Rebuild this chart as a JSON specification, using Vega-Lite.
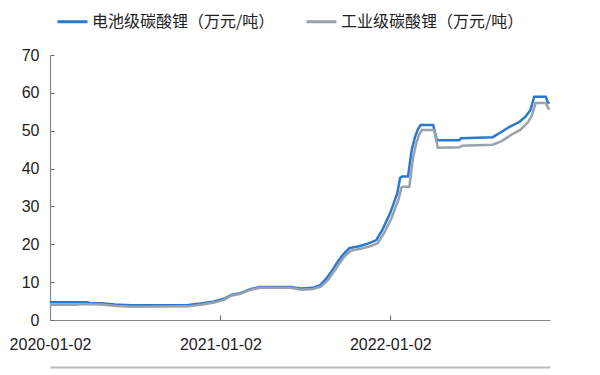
{
  "$schema": "https://vega.github.io/schema/vega-lite/v6.json",
  "width": 500,
  "height": 265,
  "autosize": {"type": "none"},
  "padding": {"left": 50, "top": 55, "right": 50, "bottom": 55},
  "background": "white",
  "config": {
    "view": {"stroke": null},
    "font": "Liberation Sans"
  },
  "data": {
    "values": [
      {"date": "2020-01-02", "s": "电池级碳酸锂（万元/吨）", "v": 4.7},
      {"date": "2020-03-22", "s": "电池级碳酸锂（万元/吨）", "v": 4.7},
      {"date": "2020-03-28", "s": "电池级碳酸锂（万元/吨）", "v": 4.45},
      {"date": "2020-04-22", "s": "电池级碳酸锂（万元/吨）", "v": 4.4},
      {"date": "2020-05-20", "s": "电池级碳酸锂（万元/吨）", "v": 4.1},
      {"date": "2020-06-25", "s": "电池级碳酸锂（万元/吨）", "v": 3.9},
      {"date": "2020-10-25", "s": "电池级碳酸锂（万元/吨）", "v": 3.95},
      {"date": "2020-11-25", "s": "电池级碳酸锂（万元/吨）", "v": 4.4},
      {"date": "2020-12-20", "s": "电池级碳酸锂（万元/吨）", "v": 4.9},
      {"date": "2021-01-10", "s": "电池级碳酸锂（万元/吨）", "v": 5.6},
      {"date": "2021-01-25", "s": "电池级碳酸锂（万元/吨）", "v": 6.6},
      {"date": "2021-02-14", "s": "电池级碳酸锂（万元/吨）", "v": 7.1},
      {"date": "2021-03-08", "s": "电池级碳酸锂（万元/吨）", "v": 8.2},
      {"date": "2021-03-29", "s": "电池级碳酸锂（万元/吨）", "v": 8.7},
      {"date": "2021-06-01", "s": "电池级碳酸锂（万元/吨）", "v": 8.7},
      {"date": "2021-06-25", "s": "电池级碳酸锂（万元/吨）", "v": 8.3},
      {"date": "2021-07-20", "s": "电池级碳酸锂（万元/吨）", "v": 8.5},
      {"date": "2021-08-04", "s": "电池级碳酸锂（万元/吨）", "v": 9.2},
      {"date": "2021-08-18", "s": "电池级碳酸锂（万元/吨）", "v": 11},
      {"date": "2021-09-01", "s": "电池级碳酸锂（万元/吨）", "v": 13.5},
      {"date": "2021-09-12", "s": "电池级碳酸锂（万元/吨）", "v": 15.6},
      {"date": "2021-09-22", "s": "电池级碳酸锂（万元/吨）", "v": 17.2},
      {"date": "2021-10-06", "s": "电池级碳酸锂（万元/吨）", "v": 19.0},
      {"date": "2021-10-27", "s": "电池级碳酸锂（万元/吨）", "v": 19.5},
      {"date": "2021-11-18", "s": "电池级碳酸锂（万元/吨）", "v": 20.3},
      {"date": "2021-12-03", "s": "电池级碳酸锂（万元/吨）", "v": 21.1},
      {"date": "2021-12-16", "s": "电池级碳酸锂（万元/吨）", "v": 23.8},
      {"date": "2022-01-02", "s": "电池级碳酸锂（万元/吨）", "v": 28.3},
      {"date": "2022-01-17", "s": "电池级碳酸锂（万元/吨）", "v": 33.5},
      {"date": "2022-01-23", "s": "电池级碳酸锂（万元/吨）", "v": 37.5},
      {"date": "2022-01-27", "s": "电池级碳酸锂（万元/吨）", "v": 37.9},
      {"date": "2022-02-09", "s": "电池级碳酸锂（万元/吨）", "v": 37.9},
      {"date": "2022-02-17", "s": "电池级碳酸锂（万元/吨）", "v": 45},
      {"date": "2022-02-24", "s": "电池级碳酸锂（万元/吨）", "v": 48.3},
      {"date": "2022-03-02", "s": "电池级碳酸锂（万元/吨）", "v": 50.3},
      {"date": "2022-03-08", "s": "电池级碳酸锂（万元/吨）", "v": 51.5},
      {"date": "2022-04-04", "s": "电池级碳酸锂（万元/吨）", "v": 51.5},
      {"date": "2022-04-12", "s": "电池级碳酸锂（万元/吨）", "v": 47.5},
      {"date": "2022-05-30", "s": "电池级碳酸锂（万元/吨）", "v": 47.5},
      {"date": "2022-06-03", "s": "电池级碳酸锂（万元/吨）", "v": 48},
      {"date": "2022-08-10", "s": "电池级碳酸锂（万元/吨）", "v": 48.3},
      {"date": "2022-08-25", "s": "电池级碳酸锂（万元/吨）", "v": 49.4},
      {"date": "2022-09-15", "s": "电池级碳酸锂（万元/吨）", "v": 51},
      {"date": "2022-10-06", "s": "电池级碳酸锂（万元/吨）", "v": 52.3},
      {"date": "2022-10-20", "s": "电池级碳酸锂（万元/吨）", "v": 53.8},
      {"date": "2022-10-30", "s": "电池级碳酸锂（万元/吨）", "v": 55.5},
      {"date": "2022-11-07", "s": "电池级碳酸锂（万元/吨）", "v": 59},
      {"date": "2022-12-02", "s": "电池级碳酸锂（万元/吨）", "v": 59},
      {"date": "2022-12-06", "s": "电池级碳酸锂（万元/吨）", "v": 57.5},
      {"date": "2022-12-10", "s": "电池级碳酸锂（万元/吨）", "v": 57.2},
      {"date": "2020-01-02", "s": "工业级碳酸锂（万元/吨）", "v": 4.0},
      {"date": "2020-03-01", "s": "工业级碳酸锂（万元/吨）", "v": 4.0},
      {"date": "2020-03-08", "s": "工业级碳酸锂（万元/吨）", "v": 4.2},
      {"date": "2020-04-20", "s": "工业级碳酸锂（万元/吨）", "v": 4.1},
      {"date": "2020-05-25", "s": "工业级碳酸锂（万元/吨）", "v": 3.7},
      {"date": "2020-06-25", "s": "工业级碳酸锂（万元/吨）", "v": 3.5},
      {"date": "2020-10-25", "s": "工业级碳酸锂（万元/吨）", "v": 3.6},
      {"date": "2020-11-25", "s": "工业级碳酸锂（万元/吨）", "v": 4.1},
      {"date": "2020-12-20", "s": "工业级碳酸锂（万元/吨）", "v": 4.6},
      {"date": "2021-01-10", "s": "工业级碳酸锂（万元/吨）", "v": 5.3},
      {"date": "2021-01-25", "s": "工业级碳酸锂（万元/吨）", "v": 6.4},
      {"date": "2021-02-14", "s": "工业级碳酸锂（万元/吨）", "v": 6.9},
      {"date": "2021-03-08", "s": "工业级碳酸锂（万元/吨）", "v": 8.0},
      {"date": "2021-03-29", "s": "工业级碳酸锂（万元/吨）", "v": 8.5},
      {"date": "2021-06-01", "s": "工业级碳酸锂（万元/吨）", "v": 8.5},
      {"date": "2021-06-25", "s": "工业级碳酸锂（万元/吨）", "v": 8.0},
      {"date": "2021-07-20", "s": "工业级碳酸锂（万元/吨）", "v": 8.2},
      {"date": "2021-08-06", "s": "工业级碳酸锂（万元/吨）", "v": 8.8},
      {"date": "2021-08-21", "s": "工业级碳酸锂（万元/吨）", "v": 10.5},
      {"date": "2021-09-04", "s": "工业级碳酸锂（万元/吨）", "v": 13},
      {"date": "2021-09-15", "s": "工业级碳酸锂（万元/吨）", "v": 15},
      {"date": "2021-09-25", "s": "工业级碳酸锂（万元/吨）", "v": 16.7},
      {"date": "2021-10-09", "s": "工业级碳酸锂（万元/吨）", "v": 18.3},
      {"date": "2021-10-30", "s": "工业级碳酸锂（万元/吨）", "v": 18.8},
      {"date": "2021-11-21", "s": "工业级碳酸锂（万元/吨）", "v": 19.5},
      {"date": "2021-12-06", "s": "工业级碳酸锂（万元/吨）", "v": 20.3},
      {"date": "2021-12-19", "s": "工业级碳酸锂（万元/吨）", "v": 22.8},
      {"date": "2022-01-05", "s": "工业级碳酸锂（万元/吨）", "v": 27},
      {"date": "2022-01-20", "s": "工业级碳酸锂（万元/吨）", "v": 32},
      {"date": "2022-01-26", "s": "工业级碳酸锂（万元/吨）", "v": 35},
      {"date": "2022-01-30", "s": "工业级碳酸锂（万元/吨）", "v": 35.2},
      {"date": "2022-02-12", "s": "工业级碳酸锂（万元/吨）", "v": 35.2},
      {"date": "2022-02-20", "s": "工业级碳酸锂（万元/吨）", "v": 43},
      {"date": "2022-02-27", "s": "工业级碳酸锂（万元/吨）", "v": 46.8},
      {"date": "2022-03-05", "s": "工业级碳酸锂（万元/吨）", "v": 49},
      {"date": "2022-03-11", "s": "工业级碳酸锂（万元/吨）", "v": 50.2},
      {"date": "2022-04-06", "s": "工业级碳酸锂（万元/吨）", "v": 50.2},
      {"date": "2022-04-14", "s": "工业级碳酸锂（万元/吨）", "v": 45.5},
      {"date": "2022-05-30", "s": "工业级碳酸锂（万元/吨）", "v": 45.6},
      {"date": "2022-06-05", "s": "工业级碳酸锂（万元/吨）", "v": 46},
      {"date": "2022-08-10", "s": "工业级碳酸锂（万元/吨）", "v": 46.3},
      {"date": "2022-08-28", "s": "工业级碳酸锂（万元/吨）", "v": 47.2},
      {"date": "2022-09-20", "s": "工业级碳酸锂（万元/吨）", "v": 49},
      {"date": "2022-10-08", "s": "工业级碳酸锂（万元/吨）", "v": 50.2},
      {"date": "2022-10-25", "s": "工业级碳酸锂（万元/吨）", "v": 52.3},
      {"date": "2022-11-02", "s": "工业级碳酸锂（万元/吨）", "v": 54},
      {"date": "2022-11-10", "s": "工业级碳酸锂（万元/吨）", "v": 57.3},
      {"date": "2022-12-02", "s": "工业级碳酸锂（万元/吨）", "v": 57.3},
      {"date": "2022-12-07", "s": "工业级碳酸锂（万元/吨）", "v": 56},
      {"date": "2022-12-10", "s": "工业级碳酸锂（万元/吨）", "v": 55.6}
    ]
  },
  "layer": [
    {
      "mark": {"type": "line", "strokeWidth": 2.5, "interpolate": "linear"},
      "encoding": {
        "x": {
          "field": "date",
          "type": "temporal",
          "scale": {
            "type": "utc",
            "domain": [
              {"year": 2020, "month": 1, "date": 2, "utc": true},
              {"year": 2022, "month": 12, "date": 11, "utc": true}
            ]
          },
          "axis": {
            "title": null,
            "values": [
              {"year": 2020, "month": 1, "date": 2, "utc": true},
              {"year": 2021, "month": 1, "date": 2, "utc": true},
              {"year": 2022, "month": 1, "date": 2, "utc": true}
            ],
            "format": "%Y-%m-%d",
            "grid": false,
            "domainColor": "#888888",
            "domainWidth": 1.2,
            "tickColor": "#666666",
            "tickSize": -5,
            "labelPadding": 21,
            "labelFontSize": 16,
            "labelColor": "#222222",
            "labelFont": "Liberation Sans",
            "labelFlush": false,
            "labelOverlap": false
          }
        },
        "y": {
          "field": "v",
          "type": "quantitative",
          "scale": {"domain": [0, 70], "nice": false},
          "axis": {
            "title": null,
            "values": [0, 10, 20, 30, 40, 50, 60, 70],
            "grid": false,
            "domainColor": "#888888",
            "domainWidth": 1.2,
            "tickColor": "#666666",
            "tickSize": -4,
            "labelPadding": 15,
            "labelFontSize": 16,
            "labelColor": "#222222",
            "labelFont": "Liberation Sans"
          }
        },
        "color": {
          "field": "s",
          "type": "nominal",
          "sort": ["电池级碳酸锂（万元/吨）", "工业级碳酸锂（万元/吨）"],
          "scale": {
            "domain": ["电池级碳酸锂（万元/吨）", "工业级碳酸锂（万元/吨）"],
            "range": ["#2a78d2", "#99a1ac"]
          },
          "legend": {
            "title": null,
            "orient": "none",
            "legendX": 6,
            "legendY": -50,
            "direction": "horizontal",
            "symbolType": "stroke",
            "symbolSize": 900,
            "symbolStrokeWidth": 3,
            "labelFont": "Noto Sans CJK SC",
            "labelFontSize": 16,
            "labelColor": "#222222",
            "labelLimit": 300,
            "labelOffset": 3,
            "columnPadding": 25
          }
        },
        "order": {"field": "s", "sort": "descending"}
      }
    },
    {
      "mark": {"type": "rule", "opacity": 0},
      "encoding": {
        "x": {
          "field": "date",
          "type": "temporal",
          "axis": {
            "title": null,
            "orient": "bottom",
            "offset": 47,
            "labels": false,
            "ticks": false,
            "grid": false,
            "domainColor": "#bbbbbb",
            "domainWidth": 2
          }
        }
      }
    }
  ],
  "resolve": {"axis": {"x": "independent"}}
}
